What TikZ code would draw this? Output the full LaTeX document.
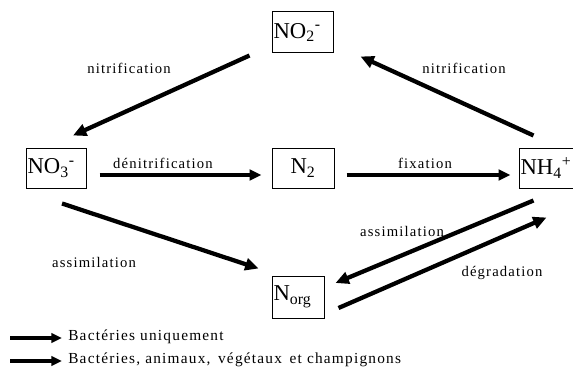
\documentclass[tikz,border=0pt]{standalone}
\usepackage{fontspec}
\setmainfont{Liberation Serif}
\newfontfamily\lblfont[LetterSpace=8]{Liberation Serif}
\usetikzlibrary{arrows.meta}
\begin{document}
\begin{tikzpicture}[x=0.75pt,y=-0.75pt,
  box/.style={draw, line width=0.75pt, font=\fontsize{17}{20}\selectfont, inner xsep=1.2pt, inner ysep=0pt, align=left},
  lbl/.style={font=\lblfont\fontsize{11}{13}\selectfont, inner sep=0pt},
  leg/.style={font=\lblfont\fontsize{11.5}{13}\selectfont, inner sep=0pt, anchor=west},
  harrow/.style={line width=2.4pt, -{Triangle[length=9pt,width=8pt]}},
  darrow/.style={line width=3.2pt, -{Triangle[length=10pt,width=9pt]}},
  larrow/.style={line width=2.4pt, -{Triangle[length=8pt,width=7pt]}},
]
\useasboundingbox (0,0) rectangle (573,374);
\fill[white] (0,0) rectangle (573,374);

% boxes
\node[box, text width=43.35pt, minimum height=30.75pt] (no2) at (302.5,32.5) {NO\textsubscript{2}\textsuperscript{-}};
\node[box, text width=42.6pt, minimum height=30pt] (no3) at (56,168) {NO\textsubscript{3}\textsuperscript{-}};
\node[box, text width=44.1pt, minimum height=30pt, align=center] (n2) at (303,168) {N\textsubscript{2}};
\node[box, text width=43.35pt, minimum height=30pt] (nh4) at (549.5,168) {NH\textsubscript{4}\textsuperscript{+}};
\node[box, text width=36.6pt, minimum height=31.5pt] (norg) at (298,297) {N\textsubscript{org}};

% arrows
\draw[darrow] ([shift={(-22,2)}]no2.south west) -- ([shift={(17,-12)}]no3.north);
\draw[darrow] ([shift={(15,-12)}]nh4.north west) -- ([shift={(27,3)}]no2.south east);
\draw[harrow] ([shift={(13,7)}]no3.east) -- ([shift={(-10,7)}]n2.west);
\draw[harrow] ([shift={(12,7)}]n2.east) -- ([shift={(-8,7)}]nh4.west);
\draw[darrow] ([shift={(6,15)}]no3.south) -- ([shift={(-13,-7)}]norg.north west);
\draw[darrow] ([shift={(15,12)}]nh4.south west) -- ([shift={(11,-14)}]norg.east);
\draw[darrow] ([shift={(14,11)}]norg.east) -- ([shift={(28,29)}]nh4.south west);

% labels
\node[lbl] (l1) at (129,68) {nitrification};
\node[lbl] (l2) at (464,68) {nitrification};
\node[lbl] (l3) at (163,163) {dénitrification};
\node[lbl] (l4) at (425,163) {fixation};
\node[lbl] (l5) at (94,262) {assimilation};
\node[lbl] (l6) at (402,231) {assimilation};
\node[lbl] (l7) at (502,273) {dégradation};

% legend
\coordinate (lg1s) at (10,338);
\coordinate (lg1e) at (62,338);
\coordinate (lg2s) at (10,361);
\coordinate (lg2e) at (62,361);
\draw[larrow] (lg1s) -- (lg1e);
\draw[larrow] (lg2s) -- (lg2e);
\node[leg] (t1) at (68,337) {Bactéries uniquement};
\node[leg] (t2) at (68,360) {Bactéries, animaux,\, végétaux\, et champignons};
\end{tikzpicture}
\end{document}
